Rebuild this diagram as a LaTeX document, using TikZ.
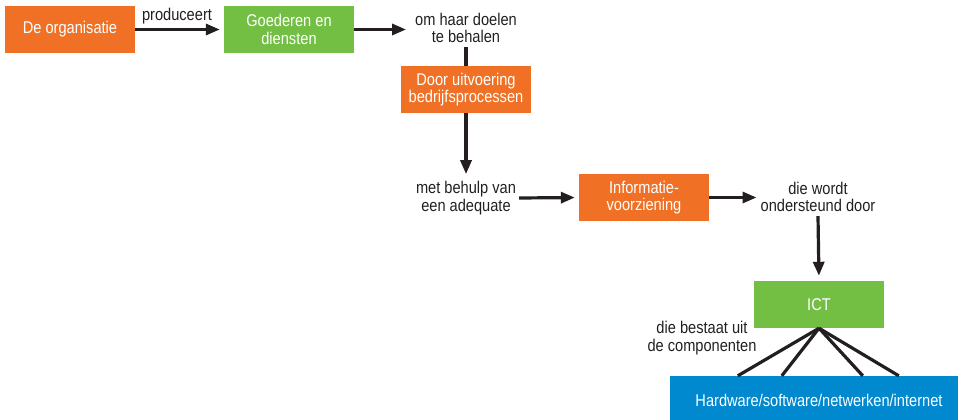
\documentclass[tikz,border=0pt]{standalone}
\usepackage{fontspec}
\setmainfont{Liberation Sans}[FakeStretch=0.86]
\usetikzlibrary{arrows.meta}
\definecolor{orgorange}{HTML}{F07125}
\definecolor{boxgreen}{HTML}{72BF44}
\definecolor{boxblue}{HTML}{0089CF}
\definecolor{ink}{HTML}{231F20}

\begin{document}
\begin{tikzpicture}[x=1pt,y=-1pt,
  txt/.style={font=\fontsize{17}{17.5}\selectfont},
  box/.style={txt, minimum width=130pt, minimum height=47pt, inner sep=0pt,
              align=center, text=white},
  orangebox/.style={box, fill=orgorange},
  greenbox/.style={box, fill=boxgreen},
  bluebox/.style={box, fill=boxblue, minimum width=298pt, minimum height=48pt},
  note/.style={txt, align=center, text=ink, inner sep=0pt},
  flow/.style={draw=ink, line width=3.2pt, -{Triangle[length=14pt,width=11pt]}},
  link/.style={draw=ink, line width=3.2pt},
]
\useasboundingbox (0,0) rectangle (958,420);
\clip (0,0) rectangle (958,420);

% boxes
\node[orangebox] (org)  at (70,29.5)   {De organisatie};
\node[greenbox]  (goed) at (289,29.5)  {Goederen en\\diensten};
\node[orangebox] (door) at (466,89.5)  {Door uitvoering\\bedrijfsprocessen};
\node[orangebox] (info) at (644,197.5) {Informatie-\\voorziening};
\node[greenbox]  (ict)  at (819,304.5) {ICT};
\node[bluebox]   (hw)   at (819,400)   {Hardware/software/netwerken/internet};

% free-standing phrases
\node[note] (prod) at (177,16)  {produceert};
\node[note] (doel) at (466,28)  {om haar doelen\\te behalen};
\node[note] (hulp) at (466,198) {met behulp van\\een adequate};
\node[note] (steun) at (818,197) {die wordt\\ondersteund door};
\node[note] (best) at (702,338) {die bestaat uit\\de componenten};

% connectors
\draw[flow, shorten >=4pt] (org.east) -- (goed.west);
\draw[flow] (goed.east) -- ([xshift=-9pt]goed.east -| doel.west);
\draw[link] ([yshift=-4pt]doel.south) -- (door.north);
\draw[flow] (door.south) -- ([yshift=7pt]hulp.north);
\draw[flow, shorten >=4pt] ([xshift=3pt]hulp.east) -- (info.west);
\draw[flow] (info.east) -- ([xshift=-4pt]info.east -| steun.west);
\draw[link, -{Triangle[length=14pt,width=11pt]}, shorten >=5pt] ([yshift=-4pt]steun.south) -- (ict.north);

\foreach \dx in {68,112,193,229}
  \draw[link] (ict.south) -- ([xshift=\dx pt]hw.north west);
\end{tikzpicture}
\end{document}
